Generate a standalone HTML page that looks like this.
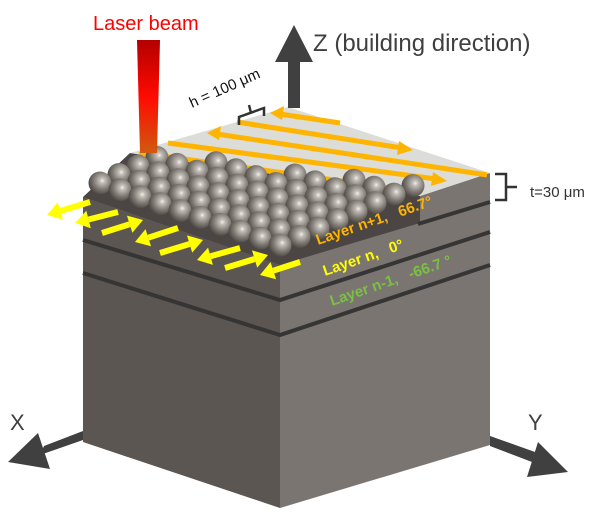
<!DOCTYPE html>
<html><head><meta charset="utf-8"><style>
html,body{margin:0;padding:0;background:#fff;width:607px;height:520px;overflow:hidden}
svg{display:block}
text{font-family:"Liberation Sans",sans-serif}
</style></head><body>
<svg width="607" height="520" viewBox="0 0 607 520" xmlns="http://www.w3.org/2000/svg">
<defs>
<linearGradient id="laser" x1="0" y1="0" x2="0" y2="1">
<stop offset="0" stop-color="#b30000"/><stop offset="0.5" stop-color="#ff0a00"/><stop offset="1" stop-color="#d05a10"/>
</linearGradient>
<radialGradient id="ball" cx="0.6" cy="0.4" r="0.7">
<stop offset="0" stop-color="#f4f2ee"/><stop offset="0.15" stop-color="#c4bfb8"/><stop offset="0.55" stop-color="#7e7872"/><stop offset="1" stop-color="#3a3632"/>
</radialGradient>
</defs>

<polygon points="83,197 280,265 280,508 83,442" fill="#5c5652"/>
<polygon points="280,265 490,202 490,445 280,508" fill="#7b7571"/>
<polygon points="83,197 280,265 490,202 420,196 130,153" fill="#4b4643"/>
<polygon points="420,196 490,173 490,202 420,223" fill="#7b7571"/>
<polygon points="420,196 420,223 280,265 83,197" fill="#4b4643"/>
<polygon points="130,153 288,107 490,173 420,196" fill="#dcdcd8"/>
<g stroke="#353535" stroke-width="4" fill="none">
<polyline points="83,240 280,300 490,232"/>
<polyline points="83,273 280,335 490,265"/>
<line x1="418" y1="224" x2="490" y2="202"/>
</g>

<g stroke="#ffb400" stroke-width="5" fill="#ffb400">
<line x1="280" y1="114" x2="340" y2="123"/><polygon stroke="none" points="270,113 284,106 282,120"/>
<line x1="237" y1="122" x2="402" y2="148"/><polygon stroke="none" points="413,150 399,141 397,155"/>
<line x1="217" y1="134" x2="487" y2="175"/><polygon stroke="none" points="207,133 221,126 219,140"/>
<line x1="168" y1="143" x2="436" y2="179"/><polygon stroke="none" points="447,181 433,172 431,186"/>
<line x1="148" y1="154" x2="420" y2="192"/><polygon stroke="none" points="138,153 152,146 150,160"/>
</g>

<g id="powder"></g>
<g stroke="#ffff00" stroke-width="6" fill="#ffff00" id="yarrows"></g>

<polygon points="137,40 160,40 157,153 140,153" fill="url(#laser)"/>
<text x="93" y="30" font-size="20" fill="#ff0000">Laser beam</text>

<rect x="288" y="60" width="12" height="48" fill="#404040"/>
<polygon points="294,25 313,62 275,62" fill="#404040"/>
<text x="313" y="51" font-size="24" fill="#404040">Z (building direction)</text>

<text x="0" y="0" font-size="15" fill="#111" transform="translate(192,108) rotate(-24)">h = 100 μm</text>
<polyline points="239,125 239,117 264,108 264,116" stroke="#333" stroke-width="2.5" fill="none"/>
<line x1="251" y1="113" x2="249" y2="105" stroke="#333" stroke-width="2.5"/>

<polyline points="495,174 506,174 506,200 495,200" stroke="#333" stroke-width="2.5" fill="none"/>
<line x1="506" y1="187" x2="517" y2="187" stroke="#333" stroke-width="2.5"/>
<text x="530" y="197" font-size="15" fill="#333">t=30 μm</text>

<text font-size="15" font-weight="bold" fill="#ffb400" transform="translate(318,245) rotate(-19)">Layer n+1,  <tspan dx="8">66.7°</tspan></text>
<text font-size="15" font-weight="bold" fill="#ffff00" transform="translate(325,276) rotate(-19)">Layer n,  <tspan dx="8">0°</tspan></text>
<text font-size="15" font-weight="bold" fill="#7ac143" transform="translate(332,306) rotate(-19)">Layer n-1,  <tspan dx="8">-66.7 °</tspan></text>

<polygon points="83,431 83,440 40,455 44,446" fill="#404040"/>
<polygon points="8,462 38,433 50,469" fill="#404040"/>
<text x="10" y="430" font-size="22" fill="#404040">X</text>
<polygon points="490,436 490,446 532,462 535,452" fill="#404040"/>
<polygon points="568,472 538,442 527,477" fill="#404040"/>
<text x="528" y="430" font-size="22" fill="#404040">Y</text>

<script>
(function(){
var ns="http://www.w3.org/2000/svg";
var g=document.getElementById("powder");
var balls=[];
for(var j=9;j>=0;j--){for(var i=0;i<10;i++){
 var x=100+i*20+j*19, y=183+i*6.9-j*8.5;
 if(y<150+0.12*(x-120))continue;
 if(x>420)continue;
 balls.push([x,y]);
}}
balls.sort(function(a,b){return a[1]-b[1];});
balls.forEach(function(p){
 var c=document.createElementNS(ns,"circle");
 c.setAttribute("cx",p[0]);c.setAttribute("cy",p[1]);c.setAttribute("r",11.5);
 c.setAttribute("fill","url(#ball)");g.appendChild(c);
});
var ya=document.getElementById("yarrows");
var arr=[[90,202,47,215],[118,212,75,223],[102,233,143,220],[178,228,135,242],[160,253,203,240],[240,248,197,260],[225,268,268,255],[300,262,260,275]];
arr.forEach(function(a){
 var tx=a[2],ty=a[3],sx=a[0],sy=a[1];
 var dx=tx-sx,dy=ty-sy,L=Math.sqrt(dx*dx+dy*dy);dx/=L;dy/=L;
 var bx=tx-dx*14,by=ty-dy*14;
 var l=document.createElementNS(ns,"line");
 l.setAttribute("x1",sx);l.setAttribute("y1",sy);l.setAttribute("x2",bx);l.setAttribute("y2",by);
 ya.appendChild(l);
 var pg=document.createElementNS(ns,"polygon");
 pg.setAttribute("stroke","none");
 pg.setAttribute("points",tx+","+ty+" "+(bx-dy*9)+","+(by+dx*9)+" "+(bx+dy*9)+","+(by-dx*9));
 ya.appendChild(pg);
});
})();
</script>
</svg>
</body></html>
